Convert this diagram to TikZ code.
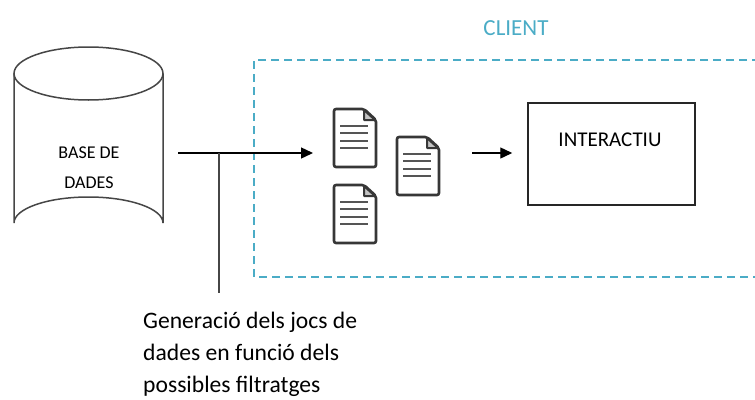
\documentclass[tikz,border=0pt]{standalone}
\usepackage{fontspec}
\setmainfont{Carlito}
\usetikzlibrary{arrows.meta}
\definecolor{clientblue}{RGB}{75,172,198}
\definecolor{linegray}{RGB}{70,70,70}
\definecolor{docgray}{RGB}{55,55,55}
\tikzset{
  lbl/.style={text=black, inner sep=0pt},
  conn/.style={line width=1.4pt, black},
  arr/.style={conn, -{Triangle[length=12pt,width=11pt]}},
  client/.style={draw=clientblue, line width=1.4pt, dash pattern=on 8pt off 5pt},
  docicon/.pic={
    \draw[line width=2.6pt, docgray, rounded corners=2pt, line join=round]
      (0,0) -- (30,0) -- (42,11) -- (42,58) -- (0,58) -- cycle;
    \draw[line width=2pt, docgray, line join=round, fill=docgray!30]
      (30,1) -- (30,11) -- (41,11) -- cycle;
    \foreach \yy in {17,24,32,39}
      \draw[line width=2.2pt, docgray!85] (6,\yy) -- (34,\yy);
    \coordinate (-c) at (21,29);
  }
}
\begin{document}
\begin{tikzpicture}[x=1pt,y=-1pt]
\useasboundingbox (0,0) rectangle (755,399);
% database cylinder
\draw[line width=1.5pt, linegray]
  (14,73.5) -- (14,223) arc[start angle=180, end angle=360, x radius=74.5, y radius=26]
  -- (163,73.5);
\draw[line width=1.5pt, linegray] (88.5,73.5) ellipse[x radius=74.5, y radius=26.5];
\node[lbl, align=center, font=\fontsize{18}{30}\selectfont] (db) at (89,168) {BASE DE\\DADES};
% client region
\node[lbl, text=clientblue, font=\fontsize{23}{26}\selectfont] (clientlbl) at (516,28) {CLIENT};
\draw[client] (760,60) -- (254,60) -- (254,277) -- (760,277);
% documents
\pic (d1) at (334,109) {docicon};
\pic (d2) at (397,137) {docicon};
\pic (d3) at (334,185) {docicon};
% interactive box
\node[draw, line width=1.5pt, black!85, minimum width=167pt, minimum height=102pt, inner sep=0pt] (inter) at (611.5,154) {};
\node[lbl, font=\fontsize{21}{24}\selectfont] (interlbl) at (610,140) {INTERACTIU};
% connectors
\coordinate (s1) at (178,153);
\coordinate (e1) at (313,153);
\coordinate (jn) at (219,153);
\coordinate (jb) at (219,293);
\draw[arr] (s1) -- (e1);
\draw[line width=2pt, linegray] (jn) -- (jb);
\coordinate (s2) at (472,153);
\draw[arr, shorten >=15pt] (s2) -- (inter.west |- s2);
% note
\node[lbl, align=left, anchor=north west, font=\fontsize{23.6}{32}\selectfont] (note) at (143,312)
  {Generació dels jocs de\\dades en funció dels\\possibles filtratges};
\end{tikzpicture}
\end{document}
